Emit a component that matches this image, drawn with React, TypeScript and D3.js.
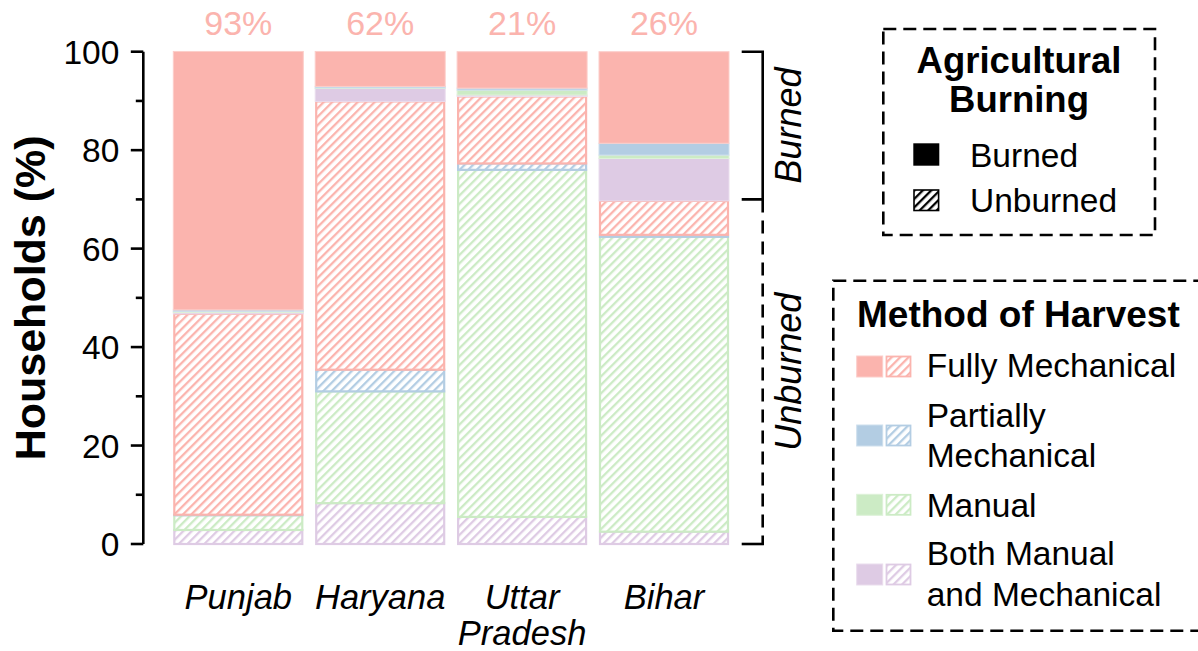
import React from "react";
import * as d3 from "d3";

const states = ["Punjab", "Haryana", "Uttar Pradesh", "Bihar"];
const stateLabelLines = [["Punjab"], ["Haryana"], ["Uttar", "Pradesh"], ["Bihar"]];
const methods = ["Fully Mechanical", "Partially Mechanical", "Manual", "Both Manual and Mechanical"];
const methodLegendLines = [["Fully Mechanical"], ["Partially", "Mechanical"], ["Manual"], ["Both Manual", "and Mechanical"]];
const methodColors = ["#fbb4ae", "#b3cde3", "#ccebc5", "#decbe4"];

// values (% of households), by state
const unburnedBoth = [2.85, 8.3, 5.5, 2.5];
const unburnedManual = [3.0, 22.7, 70.5, 59.9];
const unburnedPartial = [0.1, 4.4, 1.3, 0.4];
const unburnedFully = [40.8, 54.5, 13.6, 6.9];
const burnedBoth = [0.3, 2.65, 0.3, 8.6];
const burnedManual = [0.2, 0.1, 1.0, 0.7];
const burnedPartial = [0.3, 0.3, 0.4, 2.4];
const burnedFully = [52.5, 7.1, 7.4, 18.6];

const fullyTotalLabels = ["93%", "62%", "21%", "26%"];
const yTicks = [0, 20, 40, 60, 80, 100];
const yMinorTicks = [10, 30, 50, 70, 90];
const bracketSplit = 70;

const FONT = "'Liberation Sans', Arial, Helvetica, sans-serif";

type Key = { key: string; burned: boolean; method: number; values: number[] };
const keys: Key[] = [
  { key: "ub_both", burned: false, method: 3, values: unburnedBoth },
  { key: "ub_manual", burned: false, method: 2, values: unburnedManual },
  { key: "ub_partial", burned: false, method: 1, values: unburnedPartial },
  { key: "ub_fully", burned: false, method: 0, values: unburnedFully },
  { key: "b_both", burned: true, method: 3, values: burnedBoth },
  { key: "b_manual", burned: true, method: 2, values: burnedManual },
  { key: "b_partial", burned: true, method: 1, values: burnedPartial },
  { key: "b_fully", burned: true, method: 0, values: burnedFully },
];

const table = states.map((s, i) => {
  const row: any = { state: s };
  keys.forEach((k) => (row[k.key] = k.values[i]));
  return row;
});

const series = d3.stack<any>().keys(keys.map((k) => k.key))(table);

const x = d3.scaleBand<string>().domain(states).range([161.4, 740.9]).padding(0.0839);
const y = d3.scaleLinear().domain([0, 100]).range([544, 51.7]);

const lighten = (c: string, t: number) => d3.interpolateRgb(c, "#ffffff")(t);

function HatchPattern({ id, color }: { id: string; color: string }) {
  return (
    <pattern id={id} patternUnits="userSpaceOnUse" width={6} height={6} patternTransform="rotate(45)">
      <rect width={6} height={6} fill="#ffffff" />
      <rect x={0} y={0} width={2.3} height={6} fill={color} />
    </pattern>
  );
}

export default function App() {
  const axisX = 143.3;
  const brX = 762.7;
  const brL = 741.7;
  return (
    <svg width={1198} height={651} style={{ position: "absolute", left: 0, top: 0, background: "#fff" }} fontFamily={FONT}>
      <defs>
        {methodColors.map((c, i) => (
          <HatchPattern key={i} id={`hatch${i}`} color={c} />
        ))}
        <HatchPattern id="hatchK" color="#000000" />
      </defs>

      {/* bars */}
      {series.map((s, si) => {
        const k = keys[si];
        const color = methodColors[k.method];
        return (
          <g key={s.key}>
            {s.map((d, i) => {
              const st = states[i];
              const x0 = x(st)!;
              const y1 = y(d[1]);
              const y0 = y(d[0]);
              const h = Math.max(0, y0 - y1);
              return k.burned ? (
                <rect key={i} x={x0} y={y1} width={x.bandwidth()} height={h} fill={color} stroke={lighten(color, 0.35)} strokeWidth={1} />
              ) : (
                <rect key={i} x={x0 + 1} y={y1} width={x.bandwidth() - 2} height={h} fill={`url(#hatch${k.method})`} stroke={color} strokeWidth={2.2} />
              );
            })}
          </g>
        );
      })}

      {/* y axis */}
      <line x1={axisX} x2={axisX} y1={y(0)} y2={y(100)} stroke="#000" strokeWidth={2.6} />
      {yTicks.map((t) => (
        <g key={t}>
          <line x1={axisX - 12.5} x2={axisX} y1={y(t)} y2={y(t)} stroke="#000" strokeWidth={2.6} />
          <text x={axisX - 24} y={y(t)} dy="0.36em" textAnchor="end" fontSize={33.5} fill="#000">
            {t}
          </text>
        </g>
      ))}
      {yMinorTicks.map((t) => (
        <line key={t} x1={axisX - 7.5} x2={axisX} y1={y(t)} y2={y(t)} stroke="#000" strokeWidth={2.6} />
      ))}
      <text transform={`translate(45,${(y(0) + y(100)) / 2}) rotate(-90)`} textAnchor="middle" fontSize={43} fontWeight="bold" fill="#000">
        Households (%)
      </text>

      {/* percent labels */}
      {states.map((s, i) => (
        <text key={s} x={x(s)! + x.bandwidth() / 2} y={35} textAnchor="middle" fontSize={34} fill={methodColors[0]}>
          {fullyTotalLabels[i]}
        </text>
      ))}

      {/* state labels */}
      {states.map((s, i) => (
        <text key={s} x={x(s)! + x.bandwidth() / 2} y={609} textAnchor="middle" fontSize={34.5} fontStyle="italic" fill="#000">
          {stateLabelLines[i].map((ln, j) => (
            <tspan key={j} x={x(s)! + x.bandwidth() / 2} dy={j === 0 ? 0 : 36}>
              {ln}
            </tspan>
          ))}
        </text>
      ))}

      {/* bracket */}
      <path d={`M${brL},${y(100)} H${brX} V${y(bracketSplit)} H${brL}`} fill="none" stroke="#000" strokeWidth={2.6} />
      <line x1={brX} x2={brX} y1={y(bracketSplit)} y2={y(0)} stroke="#000" strokeWidth={2.6} strokeDasharray="13,8" />
      <line x1={brL} x2={brX + 1.3} y1={y(0)} y2={y(0)} stroke="#000" strokeWidth={2.6} />
      <text transform={`translate(801,${(y(100) + y(bracketSplit)) / 2}) rotate(-90)`} textAnchor="middle" fontSize={36} fontStyle="italic" fill="#000">
        Burned
      </text>
      <text transform={`translate(801,${(y(bracketSplit) + y(0)) / 2}) rotate(-90)`} textAnchor="middle" fontSize={36} fontStyle="italic" fill="#000">
        Unburned
      </text>

      {/* legend: Agricultural Burning */}
      <rect x={883.3} y={29} width={271.7} height={206} fill="#fff" stroke="#000" strokeWidth={2.6} strokeDasharray="13,7" />
      <text x={1019} y={73} textAnchor="middle" fontSize={36.5} fontWeight="bold" fill="#000">
        Agricultural
      </text>
      <text x={1019} y={112} textAnchor="middle" fontSize={36.5} fontWeight="bold" fill="#000">
        Burning
      </text>
      <rect x={913.3} y={143.3} width={26} height={22.4} fill="#000" />
      <text x={970} y={166.5} fontSize={33.5} fill="#000">
        Burned
      </text>
      <rect x={914} y={190} width={24.6} height={20.5} fill="url(#hatchK)" stroke="#000" strokeWidth={1.6} />
      <text x={970} y={211.5} fontSize={33.5} fill="#000">
        Unburned
      </text>

      {/* legend: Method of Harvest */}
      <rect x={833.3} y={280.7} width={370} height={350} fill="#fff" stroke="#000" strokeWidth={2.6} strokeDasharray="13,7" />
      <text x={857} y={326.7} fontSize={37} fontWeight="bold" fill="#000">
        Method of Harvest
      </text>
      {methods.map((m, i) => {
        const swY = [356, 425, 494.3, 564][i];
        const txY = [377.3, 426.7, 516.7, 565][i];
        const c = methodColors[i];
        return (
          <g key={m}>
            <rect x={856.7} y={swY} width={26} height={21} fill={c} stroke={lighten(c, 0.35)} strokeWidth={1} />
            <rect x={886.5} y={swY + 0.5} width={24} height={20} fill={`url(#hatch${i})`} stroke={c} strokeWidth={1.8} />
            <text x={926.7} y={txY} fontSize={33.5} fill="#000">
              {methodLegendLines[i].map((ln, j) => (
                <tspan key={j} x={926.7} dy={j === 0 ? 0 : 40.5}>
                  {ln}
                </tspan>
              ))}
            </text>
          </g>
        );
      })}
    </svg>
  );
}
